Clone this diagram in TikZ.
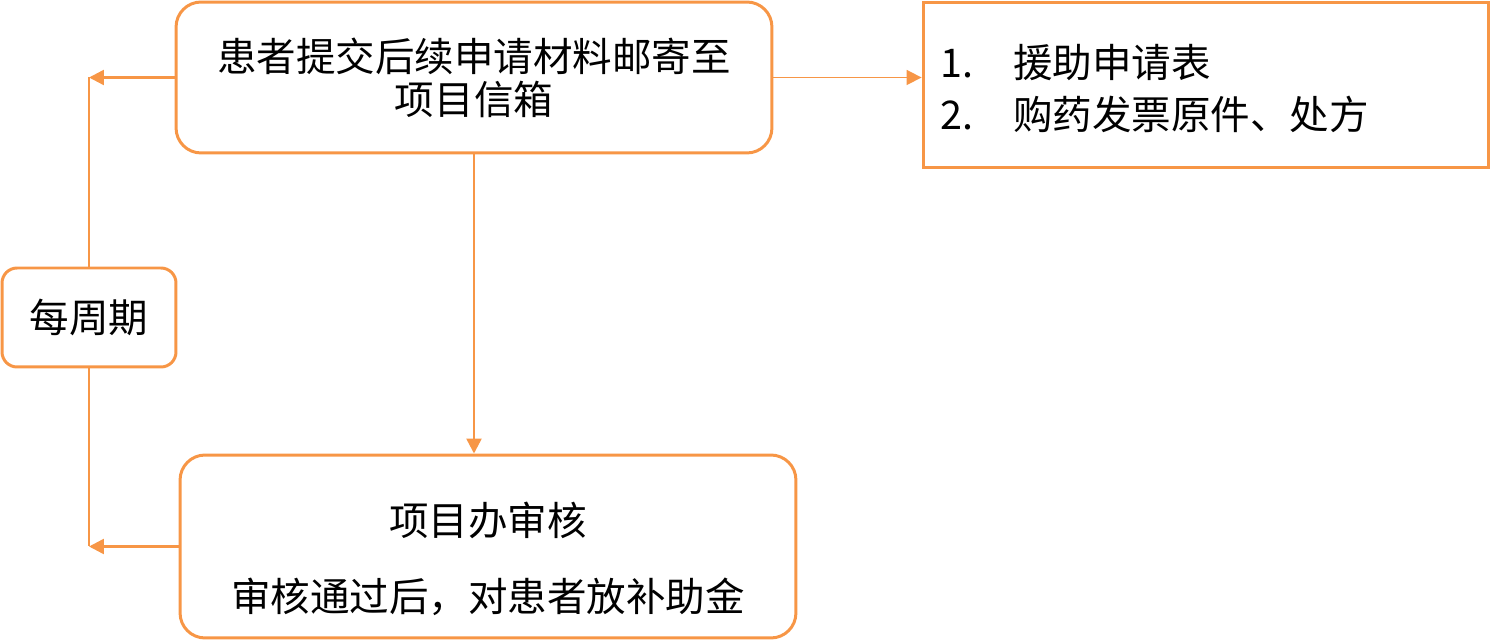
\documentclass[tikz,border=0pt]{standalone}
\usepackage{fontspec}
\setmainfont{Noto Sans CJK SC}
\usepackage{tikz}
\usetikzlibrary{
  arrows.meta
}
\definecolor{boxorange}{RGB}{247,150,70}

\begin{document}
\begin{tikzpicture}[
  x=0.02cm,
  y=-0.02cm,
  box/.style={draw=boxorange, line width=1.7pt, align=center,
    font=\fontsize{22.5}{24.4}\selectfont},
  link/.style={draw=boxorange, line width=1.4pt},
  linkarrow/.style={link, -{Triangle[length=0.3cm,width=0.3cm]}},
]
\useasboundingbox (0,0) rectangle (1491,641);
\node[box, rounded corners=0.5cm, minimum width=11.92cm, minimum height=3.02cm]
  (submit) at (474,77.5) {患者提交后续申请材料邮寄至\\项目信箱};
\node[box, align=left, text width=10.64cm, inner xsep=0.34cm,
  minimum height=3.32cm, font=\fontsize{22.5}{29.5}\selectfont]
  (materials) at (1206,85)
  {\rule{0pt}{23pt}\makebox[1.46cm][l]{1.}援助申请表\\\makebox[1.46cm][l]{2.}购药发票原件、处方};
\node[box, rounded corners=0.3cm, minimum width=3.48cm, minimum height=1.98cm]
  (cycle) at (89,317.5) {每周期};
\node[box, rounded corners=0.5cm, minimum width=12.32cm, minimum height=3.66cm]
  (review) at (488,546.5) {\rule{0pt}{33.5pt}项目办审核\\[19pt]审核通过后，对患者放补助金};
\coordinate (cycleTop) at (submit.west -| cycle.north);
\coordinate (cycleBottom) at (review.west -| cycle.south);
\draw[linkarrow] (submit.west) -- (cycleTop);
\draw[link] (cycle.north) -- (cycleTop);
\draw[linkarrow] (review.west) -- (cycleBottom);
\draw[link] (cycle.south) -- (cycleBottom);
\draw[linkarrow] (submit.south) -- (submit.south |- review.north);
\draw[linkarrow, line width=1pt] (submit.east) -- (submit.east -| materials.west);
\end{tikzpicture}
\end{document}
